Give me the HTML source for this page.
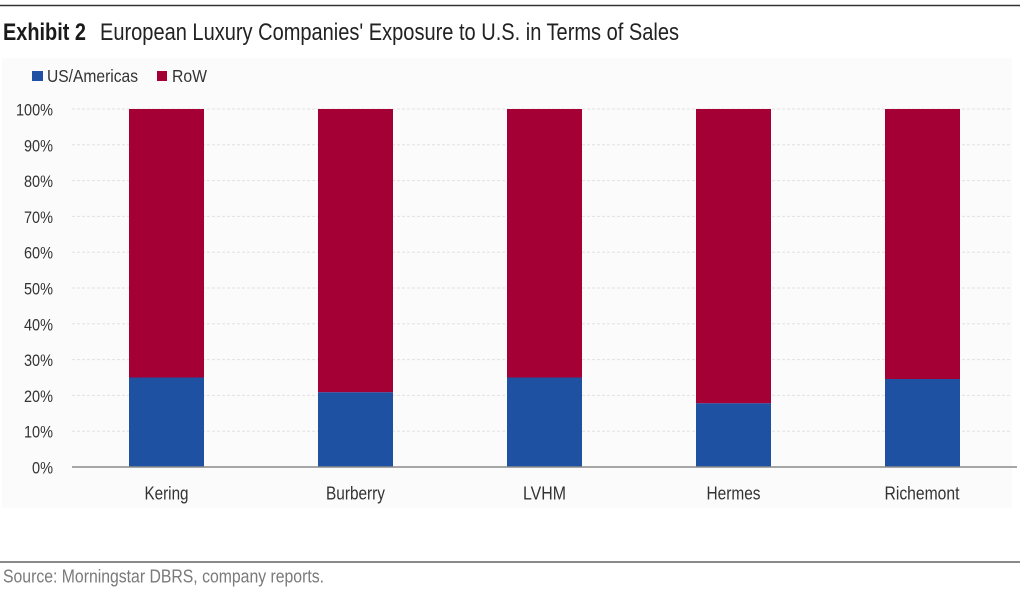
<!DOCTYPE html>
<html>
<head>
<meta charset="utf-8">
<style>
html,body{margin:0;padding:0;background:#fff;}
svg{display:block;}
text{font-family:"Liberation Sans Narrow","Liberation Sans",sans-serif;}
</style>
</head>
<body>
<svg width="1024" height="591" viewBox="0 0 1024 591" xmlns="http://www.w3.org/2000/svg">
  <rect x="0" y="0" width="1024" height="591" fill="#ffffff"/>
  <!-- top rule -->
  <line x1="0" y1="5.5" x2="1020" y2="5.5" stroke="#333" stroke-width="1.5"/>
  <!-- title -->
  <text x="3" y="40" font-size="24" font-weight="bold" fill="#1a1a1a" textLength="83" lengthAdjust="spacingAndGlyphs">Exhibit 2</text>
  <text x="100" y="40" font-size="24" fill="#222" textLength="579" lengthAdjust="spacingAndGlyphs">European Luxury Companies' Exposure to U.S. in Terms of Sales</text>

  <!-- faint panel -->
  <rect x="2" y="58" width="1010" height="450" fill="#fbfbfb"/>

  <!-- legend -->
  <rect x="32" y="71" width="11" height="10" fill="#1f51a2"/>
  <text x="47" y="82" font-size="17.5" fill="#333" textLength="91" lengthAdjust="spacingAndGlyphs">US/Americas</text>
  <rect x="157" y="71" width="10" height="10" fill="#a50035"/>
  <text x="172" y="82" font-size="17.5" fill="#333" textLength="35" lengthAdjust="spacingAndGlyphs">RoW</text>

  <!-- gridlines -->
  <g stroke="#e2e2e2" stroke-width="1" stroke-dasharray="3,2">
    <line x1="72" y1="109" x2="1012" y2="109"/>
    <line x1="72" y1="144.8" x2="1012" y2="144.8"/>
    <line x1="72" y1="180.6" x2="1012" y2="180.6"/>
    <line x1="72" y1="216.4" x2="1012" y2="216.4"/>
    <line x1="72" y1="252.2" x2="1012" y2="252.2"/>
    <line x1="72" y1="288" x2="1012" y2="288"/>
    <line x1="72" y1="323.8" x2="1012" y2="323.8"/>
    <line x1="72" y1="359.6" x2="1012" y2="359.6"/>
    <line x1="72" y1="395.4" x2="1012" y2="395.4"/>
    <line x1="72" y1="431.2" x2="1012" y2="431.2"/>
  </g>

  <!-- y labels -->
  <g font-size="17" fill="#333" text-anchor="end">
    <text x="53" y="115.5" textLength="37" lengthAdjust="spacingAndGlyphs">100%</text>
    <text x="53" y="151.3" textLength="29" lengthAdjust="spacingAndGlyphs">90%</text>
    <text x="53" y="187.1" textLength="29" lengthAdjust="spacingAndGlyphs">80%</text>
    <text x="53" y="222.9" textLength="29" lengthAdjust="spacingAndGlyphs">70%</text>
    <text x="53" y="258.7" textLength="29" lengthAdjust="spacingAndGlyphs">60%</text>
    <text x="53" y="294.5" textLength="29" lengthAdjust="spacingAndGlyphs">50%</text>
    <text x="53" y="330.3" textLength="29" lengthAdjust="spacingAndGlyphs">40%</text>
    <text x="53" y="366.1" textLength="29" lengthAdjust="spacingAndGlyphs">30%</text>
    <text x="53" y="401.9" textLength="29" lengthAdjust="spacingAndGlyphs">20%</text>
    <text x="53" y="437.7" textLength="29" lengthAdjust="spacingAndGlyphs">10%</text>
    <text x="53" y="473.5" textLength="21" lengthAdjust="spacingAndGlyphs">0%</text>
  </g>

  <!-- bars -->
  <rect x="129" y="109" width="75" height="268.5" fill="#a50035"/>
  <rect x="129" y="377.5" width="75" height="89.5" fill="#1f51a2"/>
  <rect x="318" y="109" width="75" height="283.3" fill="#a50035"/>
  <rect x="318" y="392.3" width="75" height="74.7" fill="#1f51a2"/>
  <rect x="507" y="109" width="75" height="268.5" fill="#a50035"/>
  <rect x="507" y="377.5" width="75" height="89.5" fill="#1f51a2"/>
  <rect x="696" y="109" width="75" height="294.3" fill="#a50035"/>
  <rect x="696" y="403.3" width="75" height="63.7" fill="#1f51a2"/>
  <rect x="885" y="109" width="75" height="270" fill="#a50035"/>
  <rect x="885" y="379" width="75" height="88" fill="#1f51a2"/>

  <!-- x axis -->
  <line x1="72" y1="467" x2="1017" y2="467" stroke="#8a8a8a" stroke-width="1.5"/>

  <!-- category labels -->
  <g font-size="18.5" fill="#333" text-anchor="middle">
    <text x="166.5" y="499.5" textLength="44" lengthAdjust="spacingAndGlyphs">Kering</text>
    <text x="355.5" y="499.5" textLength="59" lengthAdjust="spacingAndGlyphs">Burberry</text>
    <text x="544.5" y="499.5" textLength="43" lengthAdjust="spacingAndGlyphs">LVHM</text>
    <text x="733.5" y="499.5" textLength="54" lengthAdjust="spacingAndGlyphs">Hermes</text>
    <text x="922" y="499.5" textLength="75" lengthAdjust="spacingAndGlyphs">Richemont</text>
  </g>

  <!-- bottom rule -->
  <line x1="0" y1="562" x2="1020" y2="562" stroke="#444" stroke-width="1.2"/>
  <text x="3" y="582.5" font-size="18" fill="#7a7a7a" textLength="321" lengthAdjust="spacingAndGlyphs">Source: Morningstar DBRS, company reports.</text>
</svg>
</body>
</html>
